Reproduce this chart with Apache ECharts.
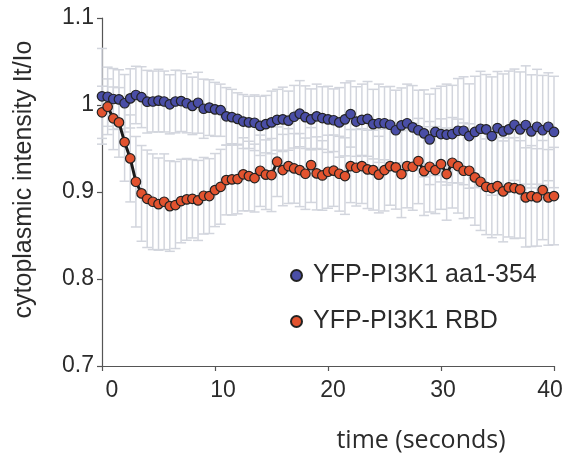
<!DOCTYPE html>
<html>
<head>
<meta charset="utf-8">
<script src="https://cdn.jsdelivr.net/npm/echarts@6/dist/echarts.min.js"></script>
<style>html,body{margin:0;padding:0;background:#fff}#c{width:569px;height:453px}</style>
</head>
<body>
<div id="c"></div>
<script>
const times = [
0,0.5,1,1.5,2,2.5,3,3.5,4,4.5,
5,5.5,6,6.5,7,7.5,8,8.5,9,9.5,
10,10.5,11,11.5,12,12.5,13,13.5,14,14.5,
15,15.5,16,16.5,17,17.5,18,18.5,19,19.5,
20,20.5,21,21.5,22,22.5,23,23.5,24,24.5,
25,25.5,26,26.5,27,27.5,28,28.5,29,29.5,
30,30.5,31,31.5,32,32.5,33,33.5,34,34.5,
35,35.5,36,36.5,37,37.5,38,38.5,39,39.5,
40];
const blueName = 'YFP-PI3K1 aa1-354';
const redName = 'YFP-PI3K1 RBD';
const blueVals = [
1.010,1.0095,1.0069,1.0065,1.002,1.0076,1.0115,1.009,1.0038,1.004,
1.005,1.004,1.0008,1.004,1.0045,1.002,0.999,1.0026,0.9957,0.997,
0.995,0.994,0.987,0.986,0.984,0.981,0.980,0.9796,0.976,0.978,
0.980,0.983,0.9835,0.982,0.9865,0.990,0.986,0.9835,0.987,0.985,
0.9835,0.9825,0.980,0.9835,0.9896,0.981,0.983,0.984,0.978,0.979,
0.979,0.9773,0.971,0.9766,0.979,0.9743,0.971,0.9674,0.9605,0.969,
0.9666,0.966,0.9666,0.9704,0.9704,0.9643,0.969,0.9727,0.972,0.9643,
0.9735,0.9697,0.972,0.9773,0.972,0.977,0.9697,0.975,0.971,0.975,
0.969];
const blueErr = [
0.055,0.034,0.035,0.034,0.033,0.034,0.033,0.035,0.036,0.035,
0.036,0.035,0.034,0.036,0.035,0.034,0.033,0.035,0.034,0.032,
0.031,0.030,0.033,0.032,0.030,0.031,0.030,0.032,0.034,0.033,
0.036,0.035,0.037,0.034,0.036,0.038,0.036,0.035,0.037,0.036,
0.038,0.036,0.040,0.042,0.038,0.040,0.041,0.043,0.040,0.045,
0.042,0.044,0.046,0.043,0.045,0.048,0.046,0.050,0.052,0.050,
0.055,0.058,0.056,0.060,0.062,0.060,0.064,0.066,0.063,0.068,
0.065,0.066,0.067,0.064,0.066,0.068,0.065,0.066,0.063,0.062,
0.064];
const redVals = [
0.9916,0.998,0.9847,0.980,0.9574,0.9386,0.9118,0.8984,0.8922,0.8888,
0.8861,0.8888,0.8838,0.885,0.8896,0.8915,0.8922,0.8903,0.8957,0.8953,
0.9022,0.906,0.9137,0.9145,0.9149,0.9203,0.9183,0.916,0.9244,0.9199,
0.9195,0.9348,0.9252,0.9298,0.9271,0.9252,0.921,0.931,0.9214,0.919,
0.9233,0.9245,0.921,0.9183,0.9298,0.9279,0.9298,0.926,0.9252,0.92,
0.9252,0.9298,0.9283,0.9206,0.9298,0.929,0.9356,0.924,0.929,0.9252,
0.9321,0.9206,0.9336,0.9298,0.9244,0.9244,0.9168,0.9118,0.906,0.9045,
0.9068,0.9007,0.9053,0.9045,0.903,0.8938,0.8953,0.8938,0.9022,0.8938,
0.8953];
const redErr = [
0.030,0.032,0.036,0.040,0.045,0.050,0.052,0.055,0.056,0.055,
0.053,0.055,0.052,0.050,0.048,0.047,0.045,0.046,0.044,0.043,
0.042,0.043,0.040,0.041,0.040,0.042,0.040,0.039,0.041,0.040,
0.042,0.040,0.041,0.043,0.040,0.042,0.041,0.043,0.042,0.040,
0.042,0.041,0.043,0.044,0.042,0.044,0.043,0.045,0.046,0.044,
0.047,0.045,0.048,0.050,0.048,0.050,0.049,0.051,0.052,0.050,
0.052,0.053,0.052,0.054,0.055,0.054,0.055,0.056,0.055,0.057,
0.056,0.058,0.057,0.058,0.056,0.057,0.058,0.056,0.057,0.055,
0.056];
const xTicks = [0, 10, 20, 30, 40];
const yTicks = [0.7, 0.8, 0.9, 1.0, 1.1];
const yTitle = 'cytoplasmic intensity It/Io';
const xTitle = 'time (seconds)';

const BLUE = '#4a4ea6', RED = '#e2532f', ERR = '#d2d5dd';
const FONT = "'Liberation Sans', Arial, Helvetica, sans-serif";

function errRender(params, api) {
  const x = api.value(0), y = api.value(1), e = api.value(2);
  const top = api.coord([x, y + e]);
  const bot = api.coord([x, y - e]);
  const hw = 5;
  const st = { stroke: ERR, lineWidth: 1.5, fill: null };
  return { type: 'group', children: [
    { type: 'line', shape: { x1: top[0], y1: top[1], x2: bot[0], y2: bot[1] }, style: st },
    { type: 'line', shape: { x1: top[0] - hw, y1: top[1], x2: top[0] + hw, y2: top[1] }, style: st },
    { type: 'line', shape: { x1: bot[0] - hw, y1: bot[1], x2: bot[0] + hw, y2: bot[1] }, style: st }
  ]};
}

const blueErrData = times.map((t, i) => [t, blueVals[i], blueErr[i]]);
const redErrData = times.map((t, i) => [t, redVals[i], redErr[i]]);
const blueData = times.map((t, i) => [t, blueVals[i]]);
const redData = times.map((t, i) => [t, redVals[i]]);

const labelPad = { 0: [0,0,0,20], 10: [0,0,0,16], 20: [0,0,0,10], 30: [0,0,0,4], 40: [0,8,0,0] };
const rich = {};
xTicks.forEach(v => { rich['p' + v] = { padding: labelPad[v], fontSize: 23, color: '#2b2b2b', fontFamily: FONT }; });

const chart = echarts.init(document.getElementById('c'), null, { renderer: 'canvas' });
chart.setOption({
  animation: false,
  backgroundColor: '#fff',
  grid: { left: 102, right: 15, top: 18, bottom: 87 },
  xAxis: {
    type: 'value', min: xTicks[0], max: xTicks[xTicks.length - 1], interval: 10,
    axisLine: { show: true, onZero: false, lineStyle: { color: '#555', width: 1.2 } },
    axisTick: { show: true, length: 5, lineStyle: { color: '#555', width: 1.2 } },
    splitLine: { show: false },
    axisLabel: { margin: 13, fontSize: 23, color: '#2b2b2b', fontFamily: FONT,
      formatter: v => '{p' + v + '|' + v + '}', rich: rich }
  },
  yAxis: {
    type: 'value', min: yTicks[0], max: yTicks[yTicks.length - 1], interval: 0.1,
    axisLine: { show: true, onZero: false, lineStyle: { color: '#555', width: 1.2 } },
    axisTick: { show: true, length: 5, lineStyle: { color: '#555', width: 1.2 } },
    splitLine: { show: false },
    axisLabel: { margin: 8, fontSize: 23, color: '#2b2b2b', fontFamily: FONT,
      formatter: v => String(+(+v).toFixed(1)) }
  },
  legend: {
    data: [blueName, redName],
    orient: 'vertical', left: 285, top: 258, itemGap: 21,
    itemWidth: 11, itemHeight: 11, icon: 'circle',
    textStyle: { fontSize: 25, color: '#2b2b2b', fontFamily: FONT, padding: [0, 0, 0, 6] },
    selectedMode: false
  },
  graphic: [
    { type: 'text', x: 24, y: 179.5, rotation: Math.PI / 2,
      style: { text: yTitle, font: "25px " + FONT, fill: '#2b2b2b', align: 'center', verticalAlign: 'middle' } },
    { type: 'text', x: 421, y: 441,
      style: { text: xTitle, font: "25px 'Open Sans', sans-serif", fill: '#2b2b2b', align: 'center', verticalAlign: 'middle' } }
  ],
  series: [
    { type: 'custom', name: 'blueErr', renderItem: errRender, data: blueErrData, encode: { x: 0, y: 1 }, z: 1, silent: true },
    { type: 'custom', name: 'redErr', renderItem: errRender, data: redErrData, encode: { x: 0, y: 1 }, z: 1, silent: true },
    { type: 'line', name: blueName, data: blueData, symbol: 'circle', symbolSize: 9.5, showAllSymbol: true,
      lineStyle: { color: '#1b1b1b', width: 3 },
      itemStyle: { color: BLUE, borderColor: '#222', borderWidth: 1.2 }, z: 3 },
    { type: 'line', name: redName, data: redData, symbol: 'circle', symbolSize: 9.5, showAllSymbol: true,
      lineStyle: { color: '#1b1b1b', width: 3 },
      itemStyle: { color: RED, borderColor: '#222', borderWidth: 1.2 }, z: 4 }
  ]
});
</script>
</body>
</html>
